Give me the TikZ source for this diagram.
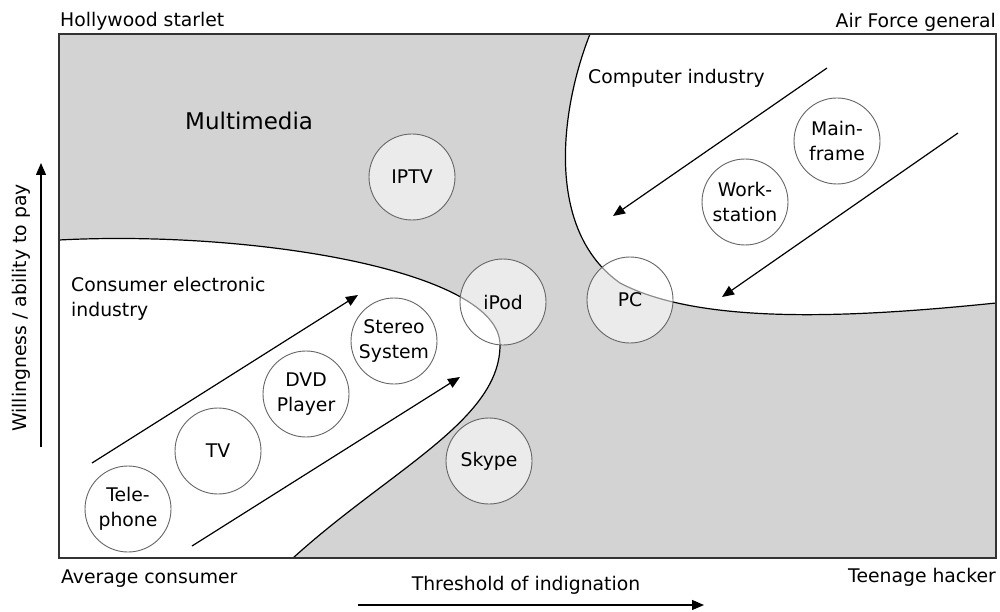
\documentclass[tikz,border=0pt]{standalone}
\usepackage{fontspec}
\setmainfont{DejaVu Sans}
\usetikzlibrary{arrows.meta}
\definecolor{bggray}{HTML}{D3D3D3}
\begin{document}
\begin{tikzpicture}[x=1pt,y=-1pt,
  lbl/.style={inner sep=0pt, font=\fontsize{18.8}{25}\selectfont},
  bubble/.style={circle, draw=black!60, line width=0.9pt, fill=white, fill opacity=0.55, text opacity=1, minimum size=86pt, inner sep=0pt, align=center, font=\fontsize{18.8}{25}\selectfont},
  boundary/.style={draw=black, line width=1.2pt},
  flow/.style={line width=1.2pt, -{Triangle[length=12pt,width=10pt]}}]
\useasboundingbox (0,0) rectangle (1000,612);
% background
\fill[bggray] (59,34) rectangle (996,558);
% consumer electronic region
\fill[white] (59,240) .. controls (250,230) and (500,270) .. (500,345) .. controls (500,420) and (390,470) .. (293,558) -- (59,558) -- cycle;
\draw[boundary] (59,240) .. controls (250,230) and (500,270) .. (500,345) .. controls (500,420) and (390,470) .. (293,558);
% computer region
\fill[white] (590,34) .. controls (560,110) and (545,230) .. (620,283) .. controls (700,325) and (850,318) .. (996,303) -- (996,34) -- cycle;
\draw[boundary] (590,34) .. controls (560,110) and (545,230) .. (620,283) .. controls (700,325) and (850,318) .. (996,303);
% frame
\draw[black!80, line width=1.4pt] (59,34) rectangle (996,558);
% corner labels
\node[lbl, anchor=base west] (hollywood) at (60,27) {Hollywood starlet};
\node[lbl, anchor=base east] (airforce) at (996,28) {Air Force general};
\node[lbl, anchor=base west] (average) at (61,583) {Average consumer};
\node[lbl, anchor=base east] (teenage) at (996,582) {Teenage hacker};
\node[lbl, anchor=base] (threshold) at (526,590) {Threshold of indignation};
\node[lbl, anchor=base, rotate=90] (willing) at (27,308) {Willingness / ability to pay};
% axis arrows
\coordinate (xa) at (358,605); \coordinate (xb) at (704,605);
\coordinate (ya) at (41,447); \coordinate (yb) at (41,163);
\draw[flow] (xa) -- (xb);
\draw[flow] (ya) -- (yb);
% region labels
\node[inner sep=0pt, font=\fontsize{23}{28}\selectfont, anchor=base west] (multimedia) at (185,130) {Multimedia};
\node[lbl, anchor=base west] (consumer1) at (71,291) {Consumer electronic};
\node[lbl, anchor=base west] (consumer2) at (71,316) {industry};
\node[lbl, anchor=base west] (computer) at (588,84) {Computer industry};
% trend arrows
\coordinate (c1a) at (92,463); \coordinate (c1b) at (358,295);
\coordinate (c2a) at (192,546); \coordinate (c2b) at (460,377);
\coordinate (p1a) at (827,68); \coordinate (p1b) at (613,216);
\coordinate (p2a) at (958,133); \coordinate (p2b) at (722,297);
\draw[flow] (c1a) -- (c1b);
\draw[flow] (c2a) -- (c2b);
\draw[flow] (p1a) -- (p1b);
\draw[flow] (p2a) -- (p2b);
% bubbles
\node[bubble] (iptv) at (412,177) {IPTV};
\node[bubble] (ipod) at (503,302) {iPod};
\node[bubble] (pc) at (630,300) {PC};
\node[bubble] (mainframe) at (837,141) {Main-\\frame};
\node[bubble] (workstation) at (745,202) {Work-\\station};
\node[bubble] (stereo) at (394,341) {Stereo\\System};
\node[bubble] (dvd) at (306,394) {DVD\\Player};
\node[bubble] (tv) at (218,451) {TV};
\node[bubble] (telephone) at (128,509) {Tele-\\phone};
\node[bubble] (skype) at (489,461) {Skype};
\end{tikzpicture}
\end{document}
